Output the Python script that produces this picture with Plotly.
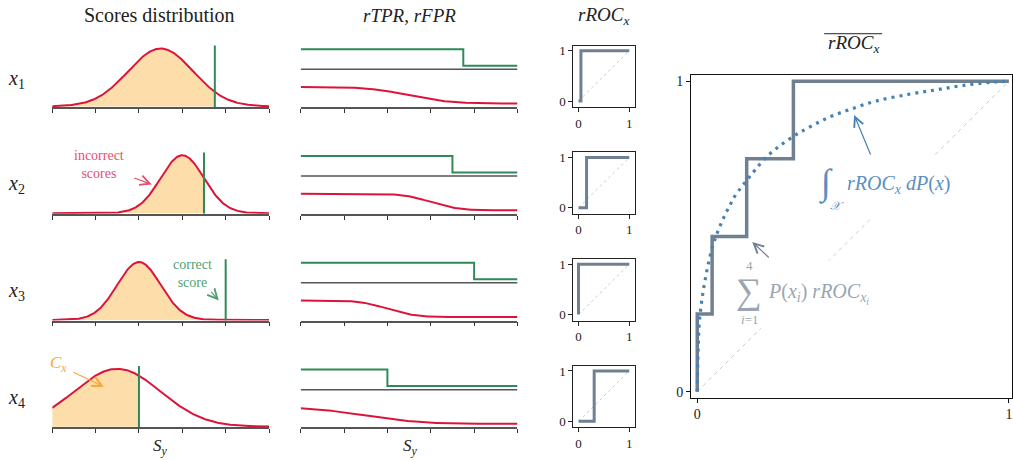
import math
import numpy as np
import plotly.graph_objects as go

W, H = 1013, 460

# ---------------- data ----------------
row_names = ["1", "2", "3", "4"]
score_means = [0.50, 0.60, 0.40, 0.30]      # mean of incorrect scores per input
score_stds = [0.15, 0.10, 0.10, 0.20]       # spread of incorrect scores per input
correct_scores = [0.75, 0.70, 0.80, 0.40]   # score of the correct output per input
row_weights = [0.25, 0.25, 0.25, 0.25]      # P(x_i)
score_ticks = [0.0, 0.2, 0.4, 0.6, 0.8, 1.0]
roc_ticks = [0, 1]
mean_roc_fpr = [0.0, 0.002, 0.006, 0.011, 0.017, 0.025, 0.036, 0.049, 0.058, 0.068,
                0.079, 0.091, 0.105, 0.115, 0.132, 0.158, 0.184, 0.222, 0.265, 0.311,
                0.338, 0.388, 0.437, 0.493, 0.573, 0.679, 0.765, 0.850, 0.946, 1.0]
mean_roc_tpr = [0.0, 0.105, 0.212, 0.265, 0.310, 0.358, 0.414, 0.467, 0.494, 0.521,
                0.547, 0.574, 0.600, 0.621, 0.646, 0.680, 0.712, 0.756, 0.792, 0.824,
                0.840, 0.867, 0.890, 0.910, 0.936, 0.958, 0.972, 0.986, 0.997, 1.0]

# ---------------- style ----------------
RED = "#dc143c"
GREEN = "#2e8b57"
SLATE = "#708090"
STEEL = "#4682b4"
FILL = "#fddeaa"
AXC = "#555555"
SERIF = "Liberation Serif, DejaVu Serif, serif"

TPR_OFFSET = 2.29
SEP_LINE = 2.07


def Phi(z):
    return 0.5 * (1.0 + math.erf(z / math.sqrt(2.0)))


def px(x):
    return x / W


def py(y):
    return 1 - y / H


def axname(n, a):
    return a if n == 1 else f"{a}{n}"


def laykey(n, a):
    return f"{a}axis" if n == 1 else f"{a}axis{n}"


fig = go.Figure()
layout = {}
annotations = []
shapes = []

row_tops = [44.0, 151.7, 259.4, 367.1]
row_h = 62.0
grid = np.linspace(0, 1, 401)

roc_fprs = []


def text(x, y, t, size, color="#222", **kw):
    d = dict(x=px(x), y=py(y), xref="paper", yref="paper", text=t, showarrow=False,
             xanchor="center", yanchor="middle",
             font=dict(family=SERIF, size=size, color=color))
    d.update(kw)
    annotations.append(d)


def arrow(tx, ty, hx, hy, color, width=1.2):
    annotations.append(dict(x=px(hx), y=py(hy), xref="paper", yref="paper", text="",
                            showarrow=True, ax=tx - hx, ay=ty - hy, arrowhead=5,
                            arrowsize=1.6, arrowwidth=width, arrowcolor=color))


for i in range(4):
    top = row_tops[i]
    bot = top + row_h
    mu, sd, c = score_means[i], score_stds[i], correct_scores[i]

    # ---- scores distribution ----
    n = 3 * i + 1
    xa, ya = axname(n, "x"), axname(n, "y")
    pdf = np.exp(-0.5 * ((grid - mu) / sd) ** 2)
    mask = grid <= c
    xf = np.append(grid[mask], c)
    yf = np.append(pdf[mask], math.exp(-0.5 * ((c - mu) / sd) ** 2))
    fig.add_trace(go.Scatter(x=xf, y=yf, fill="tozeroy", fillcolor=FILL, mode="none",
                             xaxis=xa, yaxis=ya, hoverinfo="skip", showlegend=False))
    fig.add_trace(go.Scatter(x=grid, y=pdf, mode="lines", line=dict(color=RED, width=2),
                             xaxis=xa, yaxis=ya, showlegend=False))
    fig.add_trace(go.Scatter(x=[c, c], y=[-0.012, 1.06], mode="lines",
                             line=dict(color=GREEN, width=2),
                             xaxis=xa, yaxis=ya, showlegend=False))
    layout[laykey(n, "x")] = dict(domain=[px(52.3), px(269.3)], range=[0, 1],
                                  anchor=ya, showline=True, linecolor=AXC, linewidth=1.5,
                                  ticks="outside", tickvals=score_ticks, ticklen=4,
                                  tickcolor="#333", tickwidth=1, showticklabels=False,
                                  showgrid=False, zeroline=False)
    layout[laykey(n, "y")] = dict(domain=[py(bot), py(top)], range=[-0.012, 1.05],
                                  anchor=xa, visible=False)

    # ---- rTPR, rFPR ----
    n = 3 * i + 2
    xa, ya = axname(n, "x"), axname(n, "y")
    rfpr = np.array([1.0 - Phi((t - mu) / sd) for t in grid])
    fig.add_trace(go.Scatter(x=[0, c, c, 1],
                             y=[TPR_OFFSET + 1, TPR_OFFSET + 1, TPR_OFFSET, TPR_OFFSET],
                             mode="lines", line=dict(color=GREEN, width=2),
                             xaxis=xa, yaxis=ya, showlegend=False))
    fig.add_trace(go.Scatter(x=[0, 1], y=[SEP_LINE, SEP_LINE], mode="lines",
                             line=dict(color=AXC, width=1.5),
                             xaxis=xa, yaxis=ya, showlegend=False))
    fig.add_trace(go.Scatter(x=grid, y=rfpr, mode="lines", line=dict(color=RED, width=2),
                             xaxis=xa, yaxis=ya, showlegend=False))
    layout[laykey(n, "x")] = dict(domain=[px(301), px(518)], range=[0, 1],
                                  anchor=ya, showline=True, linecolor=AXC, linewidth=1.5,
                                  ticks="outside", tickvals=score_ticks, ticklen=4,
                                  tickcolor="#333", tickwidth=1, showticklabels=False,
                                  showgrid=False, zeroline=False)
    layout[laykey(n, "y")] = dict(domain=[py(bot), py(top)], range=[-0.22, 3.51],
                                  anchor=xa, visible=False)

    # ---- rROC_x ----
    n = 3 * i + 3
    xa, ya = axname(n, "x"), axname(n, "y")
    f = 1.0 - Phi((c - mu) / sd)
    roc_fprs.append(f)
    fig.add_trace(go.Scatter(x=[0, 1], y=[0, 1], mode="lines",
                             line=dict(color="#cccccc", width=1, dash="3px,3px"),
                             xaxis=xa, yaxis=ya, showlegend=False))
    fig.add_trace(go.Scatter(x=[0, f, f, 1], y=[0, 0, 1, 1], mode="lines",
                             line=dict(color=SLATE, width=3),
                             xaxis=xa, yaxis=ya, showlegend=False))
    layout[laykey(n, "x")] = dict(domain=[px(574), px(636)], range=[-0.1, 1.12],
                                  anchor=ya, showline=True, mirror=True, linecolor="#222",
                                  linewidth=1, ticks="outside", tickvals=roc_ticks,
                                  ticklen=4, tickcolor="#222",
                                  tickfont=dict(family=SERIF, size=13, color="#222"),
                                  showgrid=False, zeroline=False)
    layout[laykey(n, "y")] = dict(domain=[py(bot), py(top)], range=[-0.12, 1.1],
                                  anchor=xa, showline=True, mirror=True, linecolor="#222",
                                  linewidth=1, ticks="outside", tickvals=roc_ticks,
                                  ticklen=4, tickcolor="#222",
                                  tickfont=dict(family=SERIF, size=13, color="#222"),
                                  showgrid=False, zeroline=False)

    text(17, [78, 184, 292, 400][i], f"<i>x</i><sub>{row_names[i]}</sub>", 20)

# ---- mean rROC ----
n = 13
xa, ya = axname(n, "x"), axname(n, "y")
order = np.argsort(roc_fprs)
sx, sy = [0.0], [0.0]
cum = 0.0
for k in order:
    sx.append(roc_fprs[k]); sy.append(cum)
    cum += row_weights[k]
    sx.append(roc_fprs[k]); sy.append(cum)
sx.append(1.0); sy.append(cum)

fig.add_trace(go.Scatter(x=[0, 1], y=[0, 1], mode="lines",
                         line=dict(color="#cccccc", width=1, dash="4px,4px"),
                         xaxis=xa, yaxis=ya, showlegend=False))
fig.add_trace(go.Scatter(x=sx, y=sy, mode="lines", line=dict(color=SLATE, width=3.5),
                         xaxis=xa, yaxis=ya, showlegend=False))
fig.add_trace(go.Scatter(x=mean_roc_fpr, y=mean_roc_tpr, mode="lines",
                         line=dict(color=STEEL, width=3.2, dash="3px,5px", shape="spline"),
                         xaxis=xa, yaxis=ya, showlegend=False))
layout[laykey(n, "x")] = dict(domain=[px(692), 1.0], range=[-0.019, 1.01],
                              anchor=ya, showline=True, mirror=True, linecolor="#111",
                              linewidth=1.3, ticks="outside", tickvals=roc_ticks, ticklen=4,
                              tickcolor="#111",
                              tickfont=dict(family=SERIF, size=14, color="#222"),
                              showgrid=False, zeroline=False)
layout[laykey(n, "y")] = dict(domain=[py(399), py(74)], range=[-0.019, 1.019],
                              anchor=xa, showline=True, mirror=True, linecolor="#111",
                              linewidth=1.3, ticks="outside", tickvals=roc_ticks, ticklen=4,
                              tickcolor="#111",
                              tickfont=dict(family=SERIF, size=14, color="#222"),
                              showgrid=False, zeroline=False)

# white boxes behind the big-panel labels
shapes.append(dict(type="rect", xref="paper", yref="paper", x0=px(815), x1=px(936),
                   y0=py(218), y1=py(156), fillcolor="white", line=dict(width=0),
                   layer="above"))
shapes.append(dict(type="rect", xref="paper", yref="paper", x0=px(732), x1=px(880),
                   y0=py(329), y1=py(261), fillcolor="white", line=dict(width=0),
                   layer="above"))
# overline of the mean title
shapes.append(dict(type="line", xref="paper", yref="paper", x0=px(825), x1=px(883),
                   y0=py(32), y1=py(32), line=dict(color="#222", width=1)))

# titles
text(160, 13, "Scores distribution", 20)
text(410, 14, "<i>rTPR</i>, <i>rFPR</i>", 19)
text(604, 14, "<i>rROC<sub>x</sub></i>", 19)
text(854, 42, "<i>rROC<sub>x</sub></i>", 19)
text(161, 449, "<i>S<sub>y</sub></i>", 17)
text(411, 449, "<i>S<sub>y</sub></i>", 17)

# in-plot notes
text(99, 164, "incorrect<br>scores", 14, "#e4506c")
arrow(133, 177, 152, 184, "#e4506c")
text(193, 274, "correct<br>score", 14, "#4f9f73")
arrow(210, 291, 219, 301, "#4f9f73")
text(59, 365, "<i>C<sub>x</sub></i>", 17, "#f7a73a")
arrow(72, 373, 104, 388, "#f7a73a")

# integral label
text(827, 183, "∫", 36, "#5b8fc0")
text(838, 206, "<i>𝒳</i>", 12, "#5b8fc0")
text(846, 184, "<i>rROC<sub>x</sub> dP</i>(<i>x</i>)", 20, "#5b8fc0", xanchor="left")
arrow(872, 155, 855, 114, STEEL)

# sum label
text(750, 266, "4", 13, "#9aa5b1")
text(750, 292, "∑", 36, "#9aa5b1")
text(750, 320, "<i>i</i>=1", 13, "#9aa5b1")
text(767, 294, "<i>P</i>(<i>x<sub>i</sub></i>) <i>rROC<sub>x<sub>i</sub></sub></i>", 20,
     "#9aa5b1", xanchor="left")
arrow(771, 259, 753, 242, SLATE)

fig.update_layout(
    width=W, height=H, margin=dict(l=0, r=0, t=0, b=0),
    plot_bgcolor="white", paper_bgcolor="white", showlegend=False,
    annotations=annotations, shapes=shapes, **layout,
)
fig.write_html("out.html", config={"displayModeBar": False},
               post_script="document.body.style.margin='0px';")
